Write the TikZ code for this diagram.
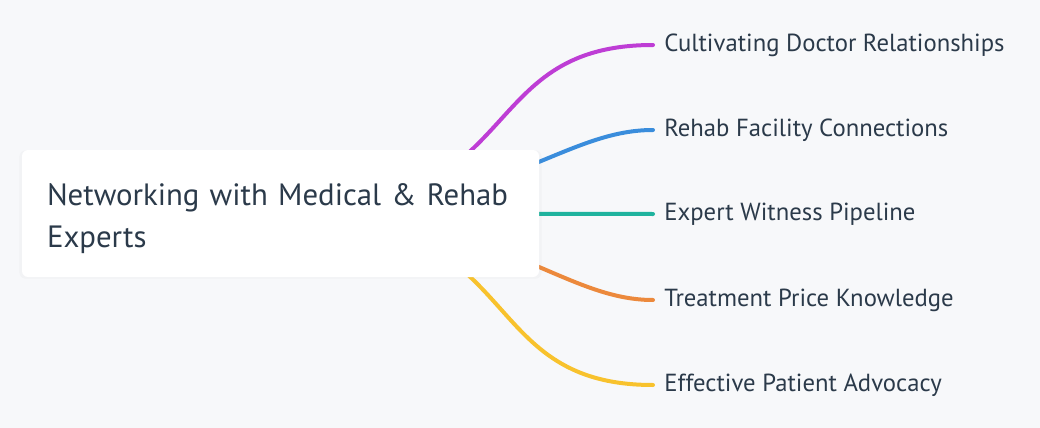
\documentclass[tikz,border=0pt]{standalone}
\usepackage{fontspec}
\setmainfont{PT Sans}
\usetikzlibrary{backgrounds,shadows}

\definecolor{bgcol}{HTML}{F7F8FA}
\definecolor{txtcol}{HTML}{2B3A4A}
\definecolor{edgemagenta}{HTML}{BE3DD5}
\definecolor{edgeblue}{HTML}{3A8DDC}
\definecolor{edgeteal}{HTML}{1FB39E}
\definecolor{edgeorange}{HTML}{EC893C}
\definecolor{edgeyellow}{HTML}{F8C22D}

\begin{document}
\begin{tikzpicture}
[
	x=0.5pt,y=-0.5pt,
	rootbox/.style={fill=white,rounded corners=3pt,inner sep=0pt,minimum width=258.5pt,minimum height=63.5pt,text width=233.5pt,align=left,font=\fontsize{15.4}{21}\selectfont,text=txtcol,drop shadow={opacity=0.04,shadow xshift=0pt,shadow yshift=-0.5pt,shadow scale=1.01}},
	leaf/.style={anchor=west,inner xsep=5.5pt,inner ysep=0pt,font=\fontsize{12.35}{14}\selectfont,text=txtcol},
	edge/.style={line width=2pt,line cap=round}
]

	\useasboundingbox (0,0) rectangle (1040,428);

	\node[rootbox] at (280.5,213.5) (root) {\rule{0pt}{16pt}Networking with Medical \& Rehab\\Experts};

	\node[leaf] at (653,45) (doctors) {Cultivating Doctor Relationships};
	\node[leaf] at (653,130) (facilities) {Rehab Facility Connections};
	\node[leaf] at (653,214) (witness) {Expert Witness Pipeline};
	\node[leaf] at (653,300) (prices) {Treatment Price Knowledge};
	\node[leaf] at (653,385) (advocacy) {Effective Patient Advocacy};

	\begin{pgfonlayer}{background}
		\fill[bgcol] (0,0) rectangle (1040,428);
		\draw[edge,edgemagenta] (root.center) .. controls +(250,0) and +(-183,0) .. (doctors.west);
		\draw[edge,edgeblue] (root.center) .. controls +(220,0) and +(-93,0) .. (facilities.west);
		\draw[edge,edgeteal] (root.center) -- (witness.west);
		\draw[edge,edgeorange] (root.center) .. controls +(220,0) and +(-93,0) .. (prices.west);
		\draw[edge,edgeyellow] (root.center) .. controls +(250,0) and +(-183,0) .. (advocacy.west);
	\end{pgfonlayer}

\end{tikzpicture}
\end{document}
